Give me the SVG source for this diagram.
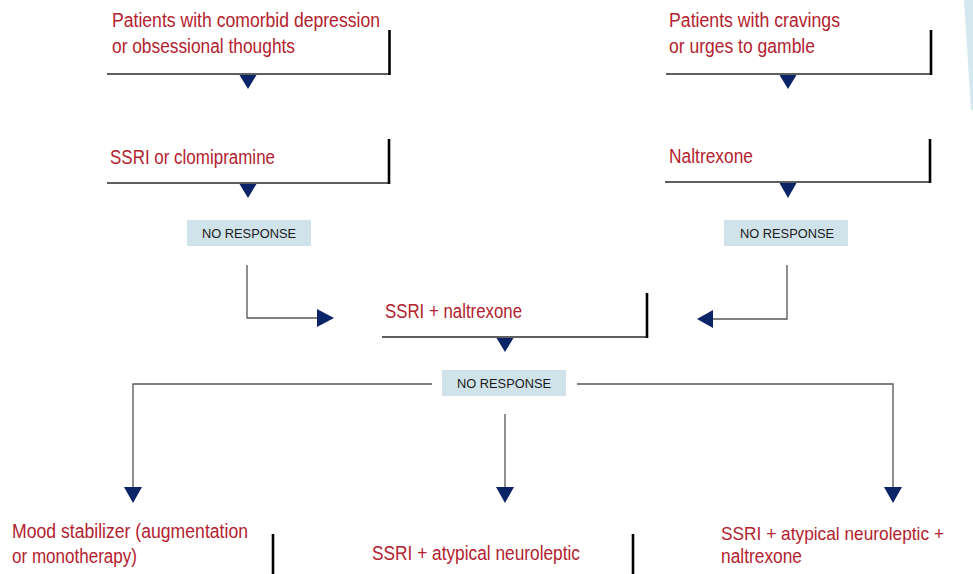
<svg xmlns="http://www.w3.org/2000/svg" width="973" height="574" viewBox="0 0 973 574">
<style>
.t{font-family:"Liberation Sans Narrow","Liberation Sans",Arial,sans-serif;font-size:19.5px;fill:#b3222e}
.t2{font-size:19px}
.nr{font-family:"Liberation Sans",Arial,sans-serif;font-size:13px;fill:#1a1a1a}
.base{stroke:#2a2a2a;stroke-width:1.6;fill:none}
.bar{stroke:#000;stroke-width:2.6;fill:none}
.tri{fill:#0b2468}
.box{fill:#d0e3ea}
.con{stroke:#555;stroke-width:1.3;fill:none}
</style>
<polygon points="964,0 973,0 973,110 971,110" fill="#d6e8ef"/>
<g id="node-depression">
<text class="t" x="112" y="27" textLength="268" lengthAdjust="spacingAndGlyphs">Patients with comorbid depression</text>
<text class="t" x="112" y="53" textLength="183" lengthAdjust="spacingAndGlyphs">or obsessional thoughts</text>
<line class="base" x1="107" y1="74" x2="390" y2="74"/>
<line class="bar" x1="389.5" y1="30" x2="389.5" y2="75"/>
<polygon class="tri" points="239.5,75 256.5,75 248,89"/>
</g>
<g id="node-cravings">
<text class="t" x="669" y="27" textLength="171" lengthAdjust="spacingAndGlyphs">Patients with cravings</text>
<text class="t" x="669" y="53" textLength="146" lengthAdjust="spacingAndGlyphs">or urges to gamble</text>
<line class="base" x1="666" y1="74" x2="932" y2="74"/>
<line class="bar" x1="931" y1="30" x2="931" y2="75"/>
<polygon class="tri" points="779.5,75 796.5,75 788,89"/>
</g>
<g id="node-ssri-clomipramine">
<text class="t" x="110" y="164" textLength="165" lengthAdjust="spacingAndGlyphs">SSRI or clomipramine</text>
<line class="base" x1="107" y1="183" x2="390" y2="183"/>
<line class="bar" x1="389" y1="139" x2="389" y2="184"/>
<polygon class="tri" points="239.5,184 256.5,184 248,198"/>
</g>
<g id="node-naltrexone">
<text class="t" x="669" y="163" textLength="84" lengthAdjust="spacingAndGlyphs">Naltrexone</text>
<line class="base" x1="665" y1="182" x2="931" y2="182"/>
<line class="bar" x1="930" y1="139" x2="930" y2="183"/>
<polygon class="tri" points="779.5,183 796.5,183 788,198"/>
</g>
<g id="nr-left">
<rect class="box" x="187" y="220" width="124" height="26"/>
<text class="nr" x="249" y="238" text-anchor="middle" textLength="94" lengthAdjust="spacingAndGlyphs">NO RESPONSE</text>
</g>
<g id="nr-right">
<rect class="box" x="724" y="220" width="124" height="26"/>
<text class="nr" x="787" y="238" text-anchor="middle" textLength="94" lengthAdjust="spacingAndGlyphs">NO RESPONSE</text>
</g>
<g id="node-ssri-naltrexone">
<text class="t" x="385" y="318" textLength="137" lengthAdjust="spacingAndGlyphs">SSRI + naltrexone</text>
<line class="base" x1="382" y1="337" x2="648" y2="337"/>
<line class="bar" x1="647" y1="293" x2="647" y2="338"/>
<polygon class="tri" points="496.5,338 513.5,338 505,352"/>
</g>
<g id="nr-center">
<rect class="box" x="442" y="370" width="124" height="26"/>
<text class="nr" x="504" y="388" text-anchor="middle" textLength="94" lengthAdjust="spacingAndGlyphs">NO RESPONSE</text>
</g>
<g id="node-mood">
<text class="t" x="12" y="538" textLength="236" lengthAdjust="spacingAndGlyphs">Mood stabilizer (augmentation</text>
<text class="t" x="12" y="563" textLength="125" lengthAdjust="spacingAndGlyphs">or monotherapy)</text>
<line class="bar" x1="273" y1="534" x2="273" y2="574"/>
</g>
<g id="node-ssri-neuroleptic">
<text class="t" x="372" y="560" textLength="208" lengthAdjust="spacingAndGlyphs">SSRI + atypical neuroleptic</text>
<line class="bar" x1="633" y1="534" x2="633" y2="574"/>
</g>
<g id="node-ssri-neuroleptic-naltrexone">
<text class="t t2" x="721" y="540" textLength="223" lengthAdjust="spacingAndGlyphs">SSRI + atypical neuroleptic +</text>
<text class="t" x="721" y="563" textLength="81" lengthAdjust="spacingAndGlyphs">naltrexone</text>
</g>
<g id="connectors">
<polyline class="con" points="247,265 247,318 318,318"/>
<polygon class="tri" points="317,309 317,327 334,318"/>
<polyline class="con" points="787,265 787,319 712,319"/>
<polygon class="tri" points="713,310 713,328 697,319"/>
<polyline class="con" points="432,384 133,384 133,488"/>
<polygon class="tri" points="124,487 142,487 133,503"/>
<line class="con" x1="505" y1="414" x2="505" y2="488"/>
<polygon class="tri" points="496,487 514,487 505,503"/>
<polyline class="con" points="577,384 893,384 893,488"/>
<polygon class="tri" points="884,487 902,487 893,503"/>
</g>
</svg>
